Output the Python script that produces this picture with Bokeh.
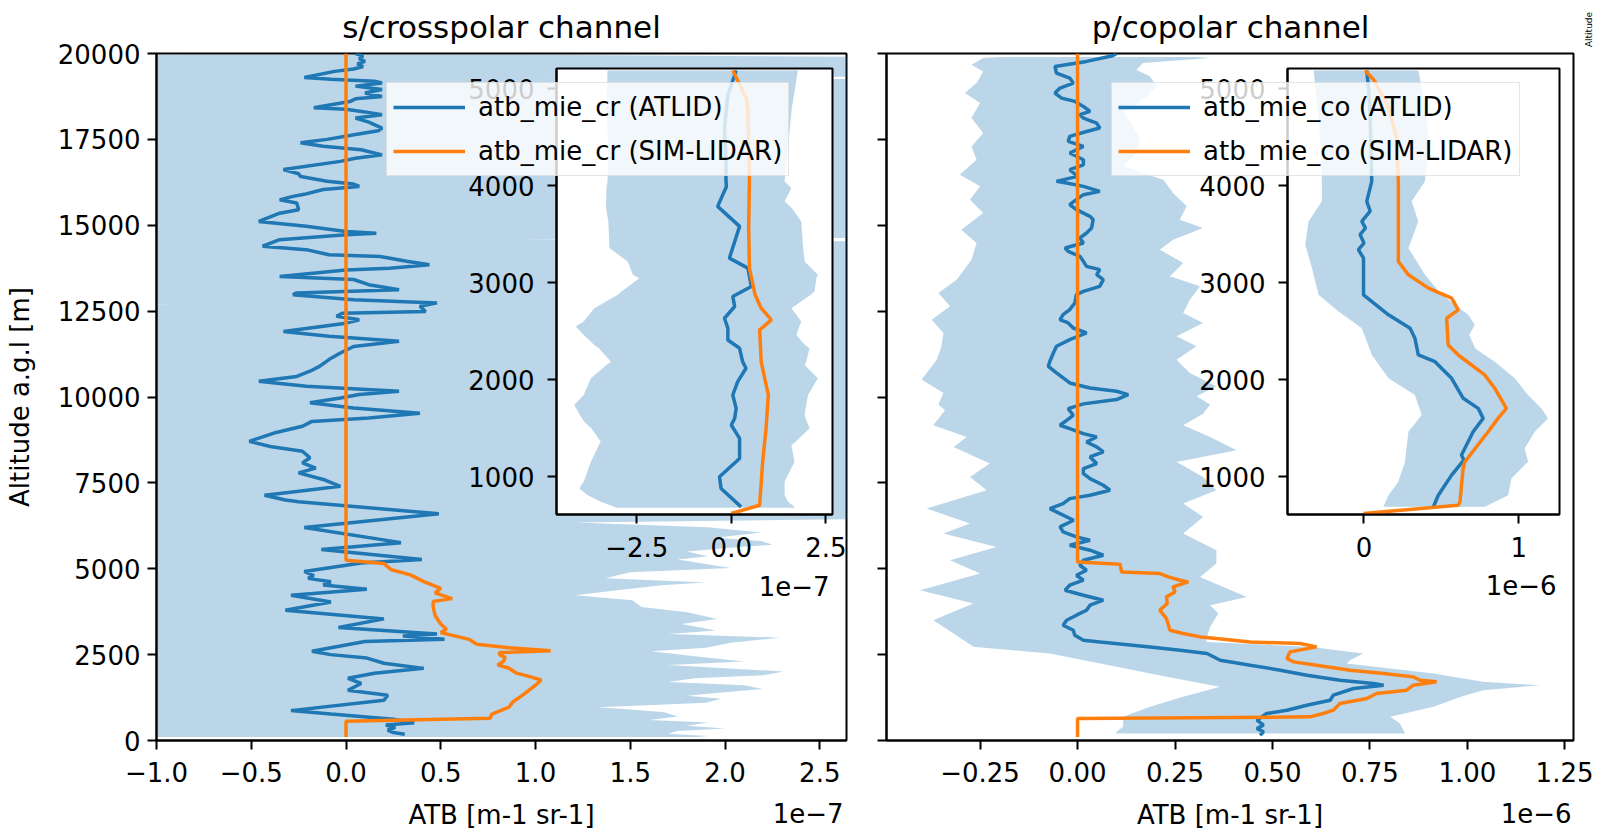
from bokeh.plotting import figure
from bokeh.models import Range1d, FixedTicker, Legend, LegendItem, Label, GridBox
from bokeh.embed import file_html
from bokeh.resources import INLINE

# ---------------- data (ATB in units of 1e-7 for cr, 1e-6 for co; altitude in m) ----------------
# s/crosspolar channel, main panel
cr_atlid_alt = [20000, 19930, 19850, 19770, 19700, 19620, 19550, 19480, 19300, 19250, 19190, 19140, 19050, 18950,
                18850, 18750, 18680, 18600, 18420, 18380, 18300, 18220, 18120, 18000, 17830, 17750, 17640, 17500,
                17400, 17300, 17200, 17050, 16950, 16860, 16620, 16500, 16420, 16280, 16200, 16130, 16040, 15900,
                15840, 15740, 15650, 15450, 15350, 15110, 14970, 14820, 14770, 14720, 14580, 14390, 14290, 14140,
                14090, 13950, 13850, 13750, 13700, 13510, 13420, 13270, 13120, 13030, 12980, 12830, 12740, 12640,
                12490, 12440, 12350, 12250, 12150, 11910, 11770, 11620, 11470, 11280, 11090, 10890, 10750, 10600,
                10460, 10310, 10170, 10070, 9970, 9830, 9680, 9530, 9390, 9290, 9150, 8950, 8710, 8560, 8420, 8230,
                8080, 7930, 7790, 7600, 7400, 7250, 7140, 7000, 6950, 6600, 6200, 5760, 5560, 5270, 5170, 4920,
                4800, 4720, 4620, 4530, 4400, 4230, 4030, 3790, 3540, 3290, 3100, 3040, 2950, 2880, 2600, 2500,
                2400, 2250, 2100, 1960, 1810, 1660, 1460, 1320, 1170, 870, 770, 620, 520, 450, 380, 300, 230, 180]
cr_atlid_val = [0.05, 0.09, 0.07, 0.10, 0.06, 0.09, 0.04, -0.06, -0.22, -0.08, 0.15, 0.19, 0.05, 0.19,
                0.10, 0.19, 0.05, 0.02, -0.17, 0.0, 0.10, 0.19, 0.05, 0.12, 0.19, 0.17, 0.05, -0.10,
                -0.24, -0.12, 0.08, 0.19, 0.05, -0.03, -0.33, -0.25, -0.24, -0.10, 0.04, 0.07, -0.12, -0.22,
                -0.28, -0.35, -0.26, -0.25, -0.35, -0.46, -0.21, 0.0, 0.16, 0.0, -0.35, -0.44, -0.21, -0.09,
                0.18, 0.32, 0.44, 0.23, 0.0, -0.35, 0.04, 0.12, 0.28, -0.26, -0.28, 0.04, 0.48, 0.39,
                0.42, -0.02, -0.05, 0.07, 0.0, -0.33, -0.09, 0.28, 0.04, -0.03, -0.09, -0.14, -0.19, -0.26,
                -0.46, -0.21, 0.28, 0.07, -0.03, -0.19, 0.04, 0.39, 0.12, -0.18, -0.23, -0.38, -0.51, -0.40, -0.23, -0.19,
                -0.23, -0.16, -0.25, -0.12, -0.03, -0.26, -0.43, -0.32, -0.25, 0.49, -0.22, 0.29, -0.13, 0.40, 0.08, -0.22,
                -0.17, -0.20, -0.08, -0.12, 0.11, -0.29, -0.08, -0.32, 0.20, -0.04, 0.48, 0.30, 0.52, 0.10, -0.18, -0.08,
                0.11, 0.20, 0.41, 0.15, 0.01, 0.08, 0.01, 0.22, 0.20, -0.29, -0.08, 0.25, 0.36, 0.21, 0.26, 0.22, 0.25, 0.31]

cr_sim_alt = [20000, 5250, 5150, 4970, 4820, 4625, 4430, 4300, 4130, 4050, 3880, 3640, 3390, 3240, 3140, 2945,
              2800, 2700, 2610, 2560, 2500, 2420, 2300, 2200, 2105, 1960, 1860, 1760, 1610, 1315, 1120, 970,
              770, 650, 560, 100]
cr_sim_val = [0.0, 0.0, 0.20, 0.24, 0.34, 0.41, 0.50, 0.47, 0.56, 0.46, 0.46, 0.47, 0.50, 0.53, 0.50, 0.65,
              0.69, 0.86, 1.08, 0.81, 0.81, 0.84, 0.83, 0.80, 0.86, 0.90, 0.97, 1.03, 1.00, 0.93, 0.88, 0.86,
              0.77, 0.76, 0.0, 0.0]

cr_band_hi_alt = [19960, 19900, 19500, 19330, 19290, 19250, 16000, 14640, 14580, 14520, 13000, 10000, 8000, 6700,
                  6450, 6350, 6205, 6057, 5900, 5810, 5700, 5613, 5500, 5365, 5267, 5020, 4900, 4723, 4600, 4526,
                  4378, 4230, 4081, 3884, 3735, 3538, 3390, 3291, 3200, 3100, 2994, 2846, 2700, 2599, 2451, 2303,
                  2200, 2006, 1900, 1809, 1700, 1611, 1500, 1414, 1300, 1216, 1100, 969, 900, 821, 700, 600, 525,
                  426, 350, 278, 200, 130, 100]
cr_band_hi_val = [0.95, 2.9, 3.3, 3.1, 0.98, 3.2, 3.4, 3.2, 0.92, 3.3, 3.1, 3.2, 3.3, 2.9,
                  2.8, 1.21, 1.91, 2.19, 1.95, 2.19, 2.25, 2.03, 1.80, 1.91, 1.75, 2.03, 1.50, 1.37, 1.90, 1.68,
                  1.44, 1.21, 1.51, 1.56, 1.80, 1.96, 1.77, 1.87, 1.95, 1.70, 2.29, 2.03, 1.90, 1.61, 1.84, 2.10,
                  1.70, 2.31, 2.20, 1.84, 1.70, 2.10, 2.20, 2.01, 1.80, 1.98, 1.90, 1.33, 1.50, 1.68, 1.75, 1.60, 1.91,
                  1.80, 2.00, 1.75, 1.70, 1.91, 1.85]
cr_band_lo_alt = [19960, 19900, 19000, 16000, 13000, 12740, 12690, 12640, 10000, 7000, 4000, 2000, 100]
cr_band_lo_val = [-0.85, -2.2, -3.1, -3.0, -3.2, -3.0, -0.93, -3.1, -3.3, -3.0, -3.1, -3.2, -3.0]

# s/crosspolar channel, inset (0.6-5.2 km)
cri_atlid_alt = [5190, 4940, 4600, 4250, 4064, 3990, 3788, 3582, 3254, 3151, 2962, 2858, 2755, 2634, 2531, 2410,
                 2324, 2186, 2118, 1980, 1842, 1704, 1601, 1532, 1394, 1187, 998, 877, 688]
cri_atlid_val = [0.13, -0.09, -0.18, -0.14, -0.14, -0.13, -0.36, 0.22, -0.05, 0.44, 0.53, 0.04, 0.09, -0.18, -0.09, -0.09,
                 0.22, 0.30, 0.39, 0.17, 0.04, 0.13, 0.09, 0.0, 0.22, 0.22, -0.31, -0.27, 0.26]
cri_sim_alt = [5190, 5080, 4900, 4770, 4064, 3565, 3151, 2876, 2738, 2617, 2514, 2186, 1842, 1498, 1153, 705, 619]
cri_sim_val = [0.04, 0.18, 0.40, 0.44, 0.48, 0.46, 0.48, 0.63, 0.79, 1.06, 0.75, 0.79, 0.98, 0.92, 0.83, 0.75, 0.0]
cri_band_alt = [5190, 4800, 4400, 4047, 3978, 3840, 3771, 3633, 3358, 3220, 3082, 3048, 2910, 2876, 2738, 2600,
                2548, 2462, 2359, 2324, 2186, 2152, 2014, 1842, 1738, 1635, 1566, 1498, 1360, 1325, 1153, 946,
                877, 809, 740, 688, 678]
cri_band_lo = [-3.27, -3.3, -3.25, -3.27, -3.3, -3.31, -3.31, -3.25, -3.22, -2.74, -2.6, -2.43, -2.9, -3.0, -3.62, -3.9,
               -4.11, -3.9, -3.62, -3.5, -3.18, -3.3, -3.71, -3.9, -4.15, -4.0, -3.89, -3.7, -3.45, -3.5, -3.71, -3.9,
               -4.02, -3.8, -3.45, -3.09, -3.05]
cri_band_hi = [1.76, 1.6, 1.5, 1.41, 1.59, 1.41, 1.6, 1.85, 1.9, 1.94, 2.29, 2.25, 2.2, 2.1, 1.59, 1.85,
               1.8, 1.72, 1.95, 2.07, 1.98, 1.94, 2.29, 2.03, 1.98, 1.94, 2.0, 2.07, 1.7, 1.59, 1.67, 1.41,
               1.41, 1.41, 1.5, 1.67, 1.67]

# p/copolar channel, main panel
co_atlid_alt = [20000, 19934, 19770, 19624, 19430, 19285, 19139, 18993, 18848, 18702, 18605, 18460, 18315, 18218,
                18120, 17975, 17830, 17730, 17587, 17442, 17296, 17102, 16908, 16760, 16617, 16423, 16278, 16230,
                16132, 15987, 15890, 15744, 15599, 15454, 15260, 15162, 14919, 14774, 14629, 14483, 14337, 14240,
                14095, 13950, 13804, 13707, 13562, 13416, 13222, 13077, 12980, 12737, 12543, 12397, 12252, 12155,
                12009, 11864, 11670, 11476, 11282, 11040, 10894, 10700, 10555, 10409, 10264, 10167, 10070, 9924,
                9800, 9661, 9467, 9322, 9177, 9080, 8934, 8837, 8691, 8546, 8400, 8255, 8061, 7916, 7770, 7625,
                7431, 7285, 7140, 7042, 6897, 6751, 6606, 6412, 6218, 6072, 5927, 5830, 5684, 5539, 5393, 5248,
                5102, 4957, 4811, 4666, 4521, 4375, 4230, 4084, 3939, 3793, 3648, 3502, 3356, 3211, 3065, 2920,
                2870, 2725, 2628, 2531, 2337, 2191, 2046, 1901, 1755, 1658, 1610, 1513, 1319, 1173, 1028, 882,
                785, 591, 446, 349, 252, 155]
co_atlid_val = [0.10, 0.09, 0.023, -0.058, -0.054, -0.02, -0.011, -0.045, -0.058, -0.041, -0.007, 0.015, 0.032, 0.006,
                0.015, 0.049, 0.057, 0.023, -0.02, -0.024, 0.015, -0.02, 0.015, 0.015, -0.02, 0.0, -0.054, -0.028,
                0.015, 0.057, 0.015, -0.003, -0.02, -0.003, 0.032, 0.04, 0.036, 0.023, 0.006, 0.015, -0.032, -0.024,
                0.006, 0.015, 0.023, 0.057, 0.049, 0.066, 0.057, 0.015, -0.003, -0.007, -0.02, -0.037, -0.045, -0.024,
                -0.011, 0.023, -0.02, -0.054, -0.062, -0.071, -0.075, -0.054, -0.037, -0.02, 0.032, 0.10, 0.13, 0.10,
                0.015, -0.024, -0.011, -0.028, -0.045, -0.02, 0.015, 0.049, 0.023, 0.049, 0.066, 0.032, 0.049, 0.015, 0.015, 0.032,
                0.066, 0.083, 0.032, -0.02, -0.037, -0.071, -0.045, -0.01, -0.045, -0.037, -0.003, 0.032, -0.02, 0.032, 0.066, 0.015,
                0.006, 0.023, -0.003, 0.015, -0.02, -0.032, 0.015, 0.066, 0.032, 0.023, -0.003, -0.028, -0.037, -0.011, -0.007, 0.015,
                0.058, 0.186, 0.263, 0.332, 0.366, 0.443, 0.52, 0.588, 0.673, 0.759, 0.785, 0.708, 0.656, 0.648, 0.588, 0.537,
                0.485, 0.46, 0.477, 0.46, 0.477, 0.468]

co_sim_alt = [20000, 5200, 5132, 4908, 4860, 4763, 4665, 4617, 4472, 4326, 4181, 3987, 3793, 3550, 3211, 3114,
              3016, 2968, 2870, 2822, 2725, 2580, 2386, 2289, 2191, 2046, 1949, 1852, 1755, 1707, 1610, 1464,
              1367, 1222, 1076, 882, 785, 688, 640, 100]
co_sim_val = [0.0, 0.0, 0.109, 0.113, 0.211, 0.233, 0.263, 0.284, 0.245, 0.25, 0.228, 0.23, 0.211, 0.228, 0.237, 0.271,
              0.315, 0.356, 0.443, 0.571, 0.613, 0.545, 0.537, 0.554, 0.613, 0.699, 0.785, 0.861, 0.879, 0.921, 0.861, 0.844,
              0.767, 0.742, 0.673, 0.656, 0.63, 0.596, 0.0, 0.0]

co_band_lo_alt = [19900, 19866, 19672, 19478, 19139, 18848, 18557, 18120, 17684, 17296, 16908, 16471, 16132, 15744,
                  15356, 14871, 14483, 13998, 13416, 13028, 12640, 12252, 11864, 11476, 11088, 10506, 10118, 9779,
                  9613, 9177, 8837, 8546, 8061, 7673, 7285, 6751, 6315, 6024, 5636, 5248, 4860, 4375, 3987, 3502,
                  3114, 2726, 2532, 2144, 1853, 1562, 1271, 980, 689, 398, 253, 204]
co_band_lo_val = [-0.20, -0.242, -0.272, -0.242, -0.259, -0.289, -0.25, -0.272, -0.242, -0.272, -0.259, -0.302, -0.25, -0.276,
                  -0.242, -0.298, -0.259, -0.272, -0.31, -0.357, -0.327, -0.374, -0.344, -0.349, -0.361, -0.40, -0.344, -0.357,
                  -0.34, -0.37, -0.284, -0.318, -0.225, -0.276, -0.233, -0.387, -0.276, -0.344, -0.208, -0.327, -0.25, -0.404, -0.267, -0.37,
                  -0.318, -0.267, -0.071, 0.10, 0.228, 0.365, 0.271, 0.186, 0.117, 0.117, 0.10, 0.10]
co_band_hi_alt = [19900, 19866, 19721, 19527, 19333, 19042, 18751, 18266, 17878, 17490, 17102, 16714, 16326, 15938,
                  15550, 15162, 14919, 14580, 14289, 13901, 13513, 13222, 12834, 12446, 12155, 11767, 11476, 11088,
                  10700, 10312, 10021, 9779, 9516, 9177, 8837, 8449, 8110, 7673, 7285, 6897, 6509, 6024, 5539,
                  5151, 4763, 4180, 3937, 3695, 3307, 3016, 2870, 2725, 2531, 2341, 2240, 1949, 1707, 1610, 1464,
                  1270, 979, 688, 494, 204]
co_band_hi_val = [0.30, 0.34, 0.168, 0.151, 0.186, 0.203, 0.177, 0.117, 0.143, 0.16, 0.151, 0.117, 0.22, 0.245,
                  0.28, 0.262, 0.322, 0.245, 0.211, 0.271, 0.237, 0.314, 0.288, 0.271, 0.322, 0.254, 0.305, 0.254,
                  0.288, 0.356, 0.305, 0.34, 0.322, 0.271, 0.34, 0.408, 0.254, 0.322, 0.356, 0.271, 0.322, 0.271, 0.356,
                  0.356, 0.314, 0.434, 0.34, 0.361, 0.34, 0.332, 0.33, 0.60, 0.733, 0.70, 0.69, 0.913, 1.04, 1.186, 1.04,
                  0.981, 0.913, 0.802, 0.827, 0.84]

# p/copolar channel, inset (0.6-5.2 km)
coi_atlid_alt = [5190, 5000, 4700, 4400, 4047, 3840, 3740, 3633, 3565, 3496, 3410, 3341, 3254, 2876, 2669, 2531,
                 2428, 2255, 2186, 2014, 1808, 1704, 1601, 1463, 1222, 1170, 1015, 808, 688]
coi_atlid_val = [0.018, 0.03, 0.04, 0.045, 0.05, 0.018, 0.04, -0.014, 0.01, -0.025, 0.0, -0.036, -0.003, -0.003, 0.158, 0.298,
                 0.329, 0.351, 0.459, 0.566, 0.641, 0.738, 0.77, 0.705, 0.63, 0.645, 0.566, 0.48, 0.448]
coi_sim_alt = [5190, 5080, 4800, 4500, 4047, 3220, 3082, 2945, 2841, 2721, 2634, 2359, 2255, 2049, 1911, 1704,
               1601, 1463, 1153, 1080, 740, 705, 619]
coi_sim_val = [0.008, 0.07, 0.16, 0.21, 0.222, 0.222, 0.287, 0.416, 0.566, 0.609, 0.534, 0.544, 0.609, 0.78, 0.845, 0.92,
               0.866, 0.802, 0.652, 0.64, 0.62, 0.609, -0.003]
coi_band_lo_alt = [5190, 4800, 4400, 4047, 3840, 3633, 3392, 3151, 2876, 2703, 2531, 2255, 2014, 1842, 1635, 1463,
                   1153, 946, 808, 688]
coi_band_lo_val = [-0.325, -0.30, -0.28, -0.272, -0.272, -0.358, -0.379, -0.336, -0.293, -0.164, -0.014, 0.051, 0.158, 0.329,
                   0.373, 0.287, 0.265, 0.222, 0.158, 0.126]
coi_band_hi_alt = [5190, 4800, 4400, 4047, 3840, 3633, 3358, 3082, 2876, 2669, 2566, 2460, 2320, 2186, 2014, 1842,
                   1704, 1601, 1463, 1291, 1153, 981, 808, 688]
coi_band_hi_val = [0.351, 0.40, 0.42, 0.394, 0.308, 0.351, 0.287, 0.394, 0.502, 0.673, 0.716, 0.68, 0.72, 0.845, 0.974, 1.06,
                   1.146, 1.189, 1.103, 1.038, 1.06, 0.952, 0.931, 0.781]

# axis ticks and labels
alt_ticks = [0, 2500, 5000, 7500, 10000, 12500, 15000, 17500, 20000]
inset_alt_ticks = [1000, 2000, 3000, 4000, 5000]
cr_xticks = [-1.0, -0.5, 0.0, 0.5, 1.0, 1.5, 2.0, 2.5]
cr_xlabels = ["\u22121.0", "\u22120.5", "0.0", "0.5", "1.0", "1.5", "2.0", "2.5"]
co_xticks = [-0.25, 0.0, 0.25, 0.5, 0.75, 1.0, 1.25]
co_xlabels = ["\u22120.25", "0.00", "0.25", "0.50", "0.75", "1.00", "1.25"]
cri_xticks = [-2.5, 0.0, 2.5]
cri_xlabels = ["\u22122.5", "0.0", "2.5"]
coi_xticks = [0.0, 1.0]
coi_xlabels = ["0", "1"]
titles = ["s/crosspolar channel", "p/copolar channel"]
offsets = ["1e\u22127", "1e\u22126"]
legend_names = [("atb_mie_cr (ATLID)", "atb_mie_cr (SIM-LIDAR)"), ("atb_mie_co (ATLID)", "atb_mie_co (SIM-LIDAR)")]

BLUE = "#1f77b4"
ORANGE = "#ff7f0e"
FONT = "DejaVu Sans"
FS = "26px"
LW = 3.5
PAGE_W, PAGE_H = 1593, 834


def style(p, xticks, xlabels, yticks, ylabels=None, xstand=12, ystand=7):
    p.xgrid.visible = False
    p.ygrid.visible = False
    p.outline_line_color = "black"
    p.outline_line_width = 2
    p.outline_line_alpha = 1.0
    p.xaxis.ticker = FixedTicker(ticks=xticks)
    p.xaxis.major_label_overrides = {t: s for t, s in zip(xticks, xlabels)}
    p.yaxis.ticker = FixedTicker(ticks=yticks)
    if ylabels is not None:
        p.yaxis.major_label_overrides = {t: s for t, s in zip(yticks, ylabels)}
    for ax in list(p.xaxis) + list(p.yaxis):
        ax.axis_line_width = 2
        ax.axis_line_color = "black"
        ax.major_tick_line_width = 2
        ax.major_tick_line_color = "black"
        ax.major_tick_out = 9
        ax.major_tick_in = 0
        ax.minor_tick_out = 0
        ax.minor_tick_in = 0
        ax.major_label_text_font = FONT
        ax.major_label_text_font_size = FS
        ax.major_label_text_color = "black"
        ax.axis_label_text_font = FONT
        ax.axis_label_text_font_size = FS
        ax.axis_label_text_font_style = "normal"
        ax.axis_label_text_color = "black"
    p.xaxis.major_label_standoff = xstand
    p.yaxis.major_label_standoff = ystand


def main_panel(width, mbl, xr, band, atlid, sim, xticks, xlabels, show_ylabels):
    p = figure(width=width, height=PAGE_H, x_range=Range1d(*xr), y_range=Range1d(0, 20000),
               output_backend="svg", toolbar_location=None, frame_align=False,
               min_border_left=mbl, min_border_right=20, min_border_top=53, min_border_bottom=PAGE_H - 740)
    lo_a, lo_v, hi_a, hi_v = band
    p.patch(x=list(hi_v) + list(lo_v)[::-1], y=list(hi_a) + list(lo_a)[::-1],
            fill_color=BLUE, fill_alpha=0.3, line_color=None)
    p.line(x=atlid[1], y=atlid[0], line_color=BLUE, line_width=LW)
    p.line(x=sim[1], y=sim[0], line_color=ORANGE, line_width=LW)
    style(p, xticks, xlabels, alt_ticks, None if show_ylabels else [""] * len(alt_ticks))
    p.xaxis.axis_label = "ATB [m-1 sr-1]"
    p.xaxis.axis_label_standoff = 15
    if show_ylabels:
        p.yaxis.axis_label = "Altitude a.g.l [m]"
        p.yaxis.axis_label_standoff = 20
    return p


def inset_panel(width, mbl, xr, band, atlid, sim, xticks, xlabels):
    q = figure(width=width, height=546, x_range=Range1d(*xr), y_range=Range1d(609, 5211),
               output_backend="svg", toolbar_location=None, frame_align=False,
               min_border_left=mbl, min_border_right=20, min_border_top=12, min_border_bottom=88)
    q.border_fill_alpha = 0.0
    q.background_fill_color = "white"
    lo_a, lo_v, hi_a, hi_v = band
    q.patch(x=list(hi_v) + list(lo_v)[::-1], y=list(hi_a) + list(lo_a)[::-1],
            fill_color=BLUE, fill_alpha=0.3, line_color=None)
    q.line(x=atlid[1], y=atlid[0], line_color=BLUE, line_width=LW)
    q.line(x=sim[1], y=sim[0], line_color=ORANGE, line_width=LW)
    style(q, xticks, xlabels, inset_alt_ticks, xstand=13, ystand=13)
    return q


p_cr = main_panel(866, 156, (-1.0, 2.641),
                  (cr_band_lo_alt, cr_band_lo_val, cr_band_hi_alt, cr_band_hi_val),
                  (cr_atlid_alt, cr_atlid_val), (cr_sim_alt, cr_sim_val),
                  cr_xticks, cr_xlabels, True)
p_co = main_panel(727, 20, (-0.49, 1.272),
                  (co_band_lo_alt, co_band_lo_val, co_band_hi_alt, co_band_hi_val),
                  (co_atlid_alt, co_atlid_val), (co_sim_alt, co_sim_val),
                  co_xticks, co_xlabels, False)
i_cr = inset_panel(472, 176, (-4.62, 2.676),
                   (cri_band_alt, cri_band_lo, cri_band_alt, cri_band_hi),
                   (cri_atlid_alt, cri_atlid_val), (cri_sim_alt, cri_sim_val),
                   cri_xticks, cri_xlabels)
i_co = inset_panel(474, 182, (-0.494, 1.263),
                   (coi_band_lo_alt, coi_band_lo_val, coi_band_hi_alt, coi_band_hi_val),
                   (coi_atlid_alt, coi_atlid_val), (coi_sim_alt, coi_sim_val),
                   coi_xticks, coi_xlabels)

# transparent overlay carrying titles, offset texts and legends (drawn above the insets)
ov = figure(width=PAGE_W, height=PAGE_H, x_range=Range1d(0, PAGE_W), y_range=Range1d(PAGE_H, 0),
            output_backend="svg", toolbar_location=None, x_axis_location=None, y_axis_location=None,
            frame_align=False,
            min_border=0, min_border_left=0, min_border_right=0, min_border_top=0, min_border_bottom=0)
ov.xgrid.visible = False
ov.ygrid.visible = False
ov.outline_line_color = None
ov.background_fill_alpha = 0.0
ov.border_fill_alpha = 0.0


def ov_text(x, y, text, size=FS, align="center", angle=0.0):
    ov.add_layout(Label(x=x, y=y, text=text, text_font=FONT, text_font_size=size, text_color="black",
                        text_align=align, text_baseline="middle", angle=angle))


ov_text(501, 26, titles[0], size="31px")
ov_text(1230, 26, titles[1], size="31px")
ov_text(843, 812, offsets[0], align="right")
ov_text(1571, 812, offsets[1], align="right")
ov_text(829, 585, offsets[0], align="right")
ov_text(1556, 584, offsets[1], align="right")
ov_text(1588, 29, "Altitude", size="9px", angle=1.5707963)

for k, lx in enumerate([386, 1111]):
    rb = ov.line(x=[-60, -50], y=[-60, -50], line_color=BLUE, line_width=LW)
    ro = ov.line(x=[-60, -50], y=[-60, -50], line_color=ORANGE, line_width=LW)
    leg = Legend(items=[LegendItem(label=legend_names[k][0], renderers=[rb]),
                        LegendItem(label=legend_names[k][1], renderers=[ro])],
                 location=(lx, PAGE_H - 176), label_text_font=FONT, label_text_font_size=FS,
                 label_text_color="black", glyph_width=72, glyph_height=36, spacing=8, padding=6,
                 label_standoff=13, margin=0, border_line_color="#cccccc", border_line_width=1.5,
                 background_fill_color="white", background_fill_alpha=0.8)
    ov.add_layout(leg)

grid = GridBox(children=[(p_cr, 0, 0, 3, 3), (p_co, 0, 3, 3, 3), (i_cr, 1, 1, 1, 1), (i_co, 1, 4, 1, 1),
                         (ov, 0, 0, 3, 6)],
               rows=["56px", "546px", "%dpx" % (PAGE_H - 602)],
               cols=["380px", "472px", "14px", "239px", "474px", "14px"])

open("out.html", "w").write(file_html(grid, INLINE))
